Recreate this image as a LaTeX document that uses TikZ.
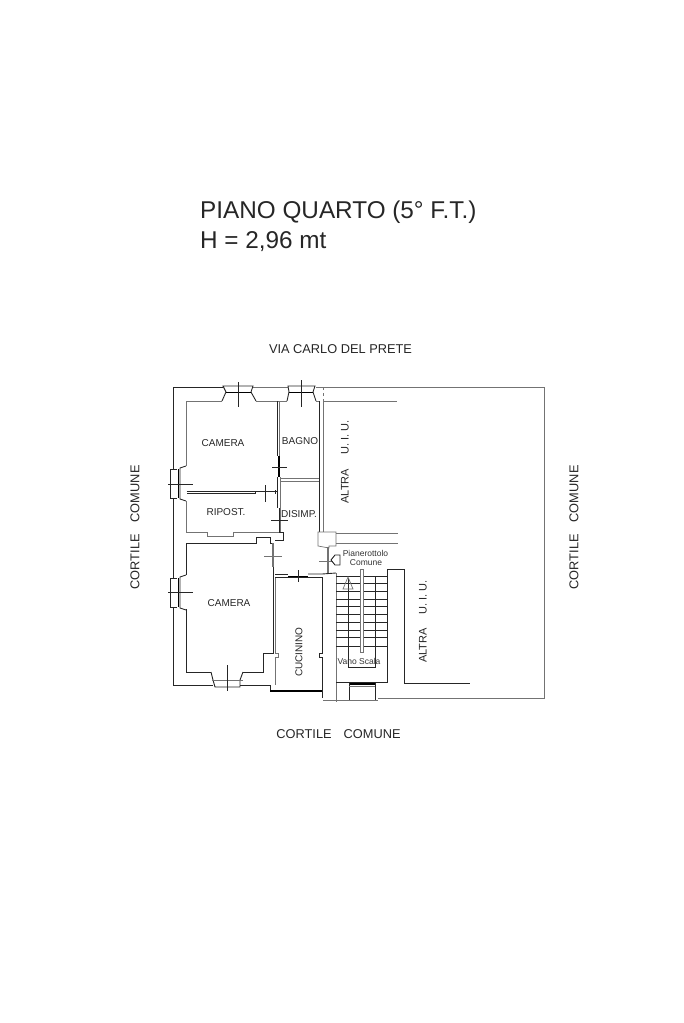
\documentclass[tikz,border=0pt]{standalone}
\usepackage{fontspec}
\setmainfont{Liberation Sans}
\tikzset{
	wall/.style={draw=black!85,line width=0.9pt},
	thinwall/.style={draw=black!55,line width=0.7pt},
	heavy/.style={draw=black,line width=1.7pt},
	greywall/.style={draw=black!55,line width=2pt},
	title/.style={inner sep=0pt,anchor=west,font=\fontsize{24.3}{26}\selectfont,text=black!85},
	lab/.style={inner sep=0pt,font=\fontsize{12.8}{14}\selectfont,text=black!85},
	roomlab/.style={inner sep=0pt,font=\fontsize{10}{12}\selectfont,text=black!85},
	altralab/.style={inner sep=0pt,rotate=90,font=\fontsize{11}{13}\selectfont,text=black!85},
	small/.style={inner sep=0pt,font=\fontsize{8.5}{10}\selectfont,text=black!80}
}
\begin{document}
\begin{tikzpicture}[x=1pt,y=-1pt]
	\useasboundingbox (0,0) rectangle (683,1023);
	% heading
	\node[title] (head1) at (200,212) {PIANO QUARTO (5° F.T.)};
	\node[title] (head2) at (200,241.5) {H = 2,96 mt};
	% outside labels
	\node[lab] (via) at (340.5,349.5) {VIA CARLO DEL PRETE};
	\node[lab] (south) at (338.5,734.5) {CORTILE\hspace{12pt}COMUNE};
	\node[lab,rotate=90] (west) at (135,527.5) {CORTILE\hspace{12pt}COMUNE};
	\node[lab,rotate=90] (east) at (574,527.5) {CORTILE\hspace{12pt}COMUNE};
	% outer walls
	\draw[wall] (223,387) -- (173.5,387) -- (173.5,469);
	\draw[wall] (173.5,498) -- (173.5,578);
	\draw[wall] (173.5,607) -- (173.5,685) -- (213,685);
	\draw[wall] (240,685) -- (270,685) -- (270,691);
	\draw[heavy] (270,691) -- (322,691);
	\draw[thinwall] (253,387) -- (288,387);
	\draw[thinwall] (316,387) -- (544,387) -- (544,698) -- (378,698);
	\draw[thinwall] (323,700) -- (347,700);
	% upper camera
	\draw[thinwall] (222,401) -- (186.5,401) -- (186.5,466);
	\draw[thinwall] (186.5,501) -- (186.5,532.5) -- (207,532.5) -- (207,536) -- (233,536) -- (233,532.5) -- (279,532.5);
	\draw[thinwall] (256,401) -- (287,401);
	\draw[thinwall] (316,401) -- (319,401);
	\draw[thinwall] (323,401) -- (397,401);
	\draw[wall] (277.5,401) -- (277.5,456);
	\draw[thinwall] (279.5,401) -- (279.5,456);
	\draw[heavy] (279,456) -- (279,477);
	\draw[wall] (277.5,477) -- (277.5,508);
	\draw[thinwall] (280,477) -- (280,532);
	\draw[wall] (279,508) -- (279,532);
	\draw[wall] (186.5,491) -- (255,491) -- (255,493) -- (186.5,493);
	\draw[wall] (255,491.5) -- (277,491.5);
	\draw[wall] (275,490) -- (275,494);
	% shaft wall next to bagno
	\draw[wall] (319.5,401) -- (319.5,532);
	\draw[thinwall] (323,401) -- (323,532);
	\draw[thinwall,dashed] (323,387) -- (323,401);
	\draw[thinwall] (280,478) -- (319,478);
	\draw[thinwall] (280,481) -- (319,481);
	% landing block
	\draw[thinwall] (318,532) -- (336,532) -- (336,546) -- (329,546) -- (329,548) -- (318,546) -- cycle;
	\draw[thinwall] (336,533) -- (398,533);
	\draw[thinwall] (336,543) -- (398,543);
	\draw[greywall] (328,547) -- (328,573);
	% lower camera
	\draw[wall] (186.5,543) -- (256,543) -- (256,537) -- (270,537) -- (270,543) -- (273,543);
	\draw[wall] (275,540) -- (283,540) -- (283,532) -- (279,532);
	\draw[greywall] (273,543) -- (273,567);
	\draw[wall] (186.5,543) -- (186.5,575);
	\draw[wall] (186.5,609) -- (186.5,672) -- (211,672);
	\draw[wall] (243,672) -- (263,672) -- (263,653) -- (273,653) -- (273,567);
	\draw[thinwall] (275,577) -- (275,653) -- (278,653) -- (278,657) -- (275,657) -- (275,685);
	% cucinino
	\draw[wall] (275,574) -- (288,574);
	\draw[heavy] (288,576.5) -- (308,576.5);
	\draw[wall] (308,574) -- (322,574) -- (336,573);
	\draw[wall] (275,577) -- (322,577);
	\draw[wall] (322,577) -- (322,653) -- (319,653) -- (319,657) -- (322,657) -- (322,698);
	\draw[thinwall] (336,573) -- (336,702);
	% stairs
	\foreach \y in {576,583,591,599,606,614,622,630,637,646}
		\draw[wall] (336,\y) -- (387,\y);
	\draw[wall] (348,578) -- (348,667) -- (375,667) -- (375,576);
	\draw[thinwall,fill=white] (360,569) rectangle (363,652);
	\draw[thinwall] (348,577) -- (343,589) -- (353,589) -- cycle;
	\draw[wall] (336,682) -- (387,682) -- (387,569) -- (404,569) -- (404,683) -- (470,683);
	% stair window
	\draw[heavy] (349,684) -- (375,684);
	\draw[wall] (349,682) -- (349,700);
	\draw[wall] (375,682) -- (375,700);
	\draw[thinwall] (349,686.5) -- (375,686.5);
	\draw[thinwall] (347,700) -- (378,700);
	% top windows
	\draw[wall] (222,401) -- (226,392) -- (223,386) -- (253,386) -- (251,392) -- (256,401);
	\draw[heavy] (226,392.5) -- (251,392.5);
	\draw[wall] (238,382) -- (238,407);
	\draw[wall] (287,401) -- (289,392) -- (288,386) -- (315,386) -- (313,392) -- (316,401);
	\draw[heavy] (289,392.5) -- (313,392.5);
	\draw[wall] (301,380) -- (301,407);
	% left windows
	\foreach \top/\bot in {469/498,578/607} {
		\draw[wall] (177,\top) -- (170,\top) -- (170,\bot) -- (177,\bot);
		\draw[heavy] (178.5,\top) -- (178.5,\bot);
		\draw[wall] (186,\top-3) -- (180,\top-1) -- (180,\bot+1) -- (186,\bot+3);
	}
	\draw[wall] (168,484) -- (193,484);
	\draw[wall] (168,592) -- (193,592);
	% bottom window
	\draw[wall] (211,672) -- (213,680) -- (215,687) -- (240,687) -- (240,680) -- (243,672);
	\draw[thinwall] (212,680) -- (243,680);
	\draw[wall] (227,665) -- (227,691);
	% door marks
	\draw[wall] (272,467) -- (287,467);
	\draw[wall] (265,485) -- (265,502);
	\draw[wall] (271,520) -- (288,520);
	\draw[thinwall] (264,556) -- (282,556);
	\draw[wall] (298,570) -- (298,582);
	\draw[thinwall] (319,561) -- (333,561);
	% landing door symbol
	\draw[wall] (335,555) -- (340,555) -- (340,565) -- (335,565) -- (331,560) -- cycle;
	% room labels
	\node[roomlab] (camera1) at (223,443) {CAMERA};
	\node[roomlab] (bagno) at (300,441) {BAGNO};
	\node[roomlab] (ripost) at (226,512) {RIPOST.};
	\node[roomlab] (disimp) at (299,514) {DISIMP.};
	\node[roomlab] (camera2) at (229,603) {CAMERA};
	\node[roomlab,rotate=90] (cucinino) at (299,652) {CUCININO};
	\node[altralab] (altra1) at (345,462) {ALTRA\hspace{14pt}U. I. U.};
	\node[altralab] (altra2) at (423,621.5) {ALTRA\hspace{14pt}U. I. U.};
	\node[small] (landing1) at (365.5,553) {Pianerottolo};
	\node[small] (landing2) at (366,563) {Comune};
	\node[small] (vano) at (359,661) {Vano Scala};
\end{tikzpicture}
\end{document}
